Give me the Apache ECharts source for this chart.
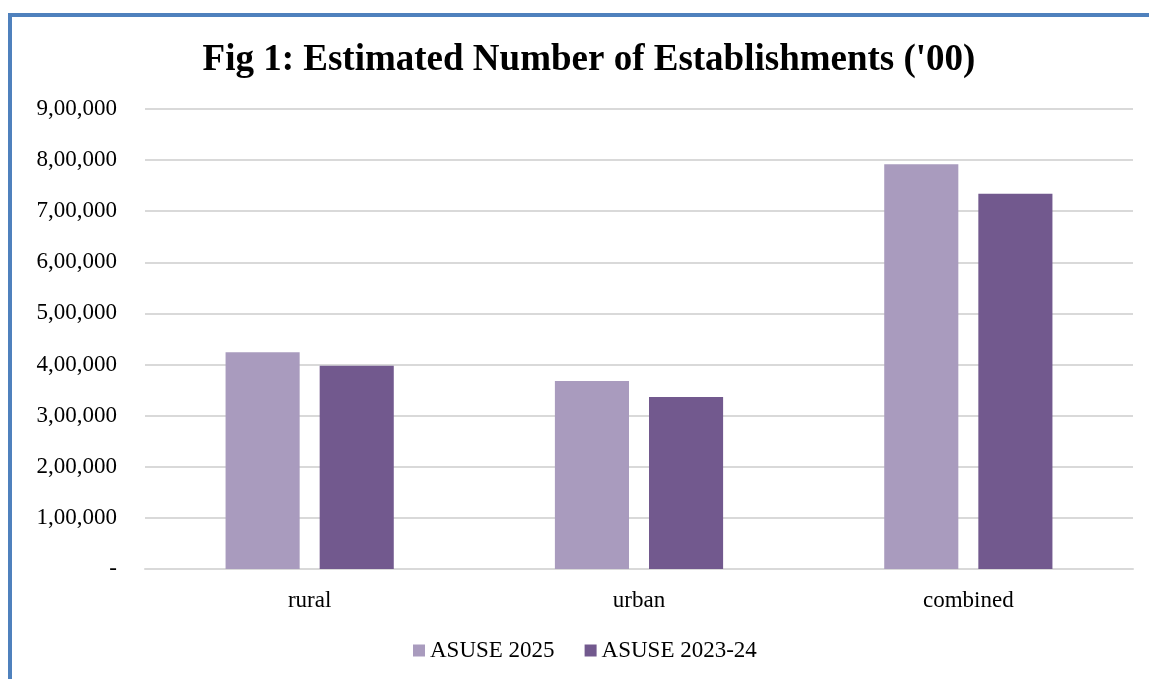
<!DOCTYPE html>
<html>
<head>
<meta charset="utf-8">
<script src="https://cdn.jsdelivr.net/npm/echarts@6/dist/echarts.min.js"></script>
<style>
html,body{margin:0;padding:0;background:#fff;}
#frame{position:absolute;left:8px;top:13px;width:1141px;height:666px;border-left:4px solid #4F81BD;border-top:4px solid #4F81BD;box-sizing:border-box;}
#chart{position:absolute;left:0;top:0;width:1149px;height:679px;}
</style>
</head>
<body>
<div id="frame"></div>
<div id="chart"></div>
<script>
const categories = ['rural', 'urban', 'combined'];
const asuse2025 = [424000, 367800, 791800];
const asuse202324 = [397800, 336500, 734000];
const yTicks = [0, 100000, 200000, 300000, 400000, 500000, 600000, 700000, 800000, 900000];

function indianFormat(v) {
  if (v === 0) return '-';
  const s = String(Math.round(v));
  const last3 = s.slice(-3);
  let rest = s.slice(0, -3);
  let out = '';
  while (rest.length > 2) {
    out = ',' + rest.slice(-2) + out;
    rest = rest.slice(0, -2);
  }
  return (rest ? rest + out + ',' : '') + last3;
}

const chart = echarts.init(document.getElementById('chart'));
const serif = '"Liberation Serif", "Times New Roman", serif';
chart.setOption({
  animation: false,
  backgroundColor: 'transparent',
  title: {
    text: "Fig 1: Estimated Number of Establishments ('00)",
    left: 584, top: 37, textAlign: 'center',
    textStyle: { fontFamily: serif, fontSize: 37, fontWeight: 'bold', color: '#000' }
  },
  legend: {
    data: ['ASUSE 2025', 'ASUSE 2023-24'],
    bottom: 12, left: 408,
    itemWidth: 12, itemHeight: 12, itemGap: 30,
    icon: 'rect',
    textStyle: { fontFamily: serif, fontSize: 23, color: '#000' }
  },
  grid: { left: 145, right: 16, top: 109, bottom: 110 },
  xAxis: {
    type: 'category', data: categories,
    axisLine: { lineStyle: { color: '#d9d9d9', width: 2 } },
    axisTick: { show: false },
    axisLabel: { fontFamily: serif, fontSize: 23, color: '#000', margin: 20 }
  },
  yAxis: {
    type: 'value', min: yTicks[0], max: yTicks[yTicks.length - 1], interval: 100000,
    axisLine: { show: false }, axisTick: { show: false },
    splitLine: { lineStyle: { color: '#d9d9d9', width: 2 } },
    axisLabel: { fontFamily: serif, fontSize: 23, color: '#000', margin: 28, formatter: indianFormat }
  },
  series: [
    { name: 'ASUSE 2025', type: 'bar', data: asuse2025, barWidth: '22.5%', barGap: '27%',
      itemStyle: { color: '#A99BBE' } },
    { name: 'ASUSE 2023-24', type: 'bar', data: asuse202324, barWidth: '22.5%', barGap: '27%',
      itemStyle: { color: '#72598E' } }
  ]
});
</script>
</body>
</html>
